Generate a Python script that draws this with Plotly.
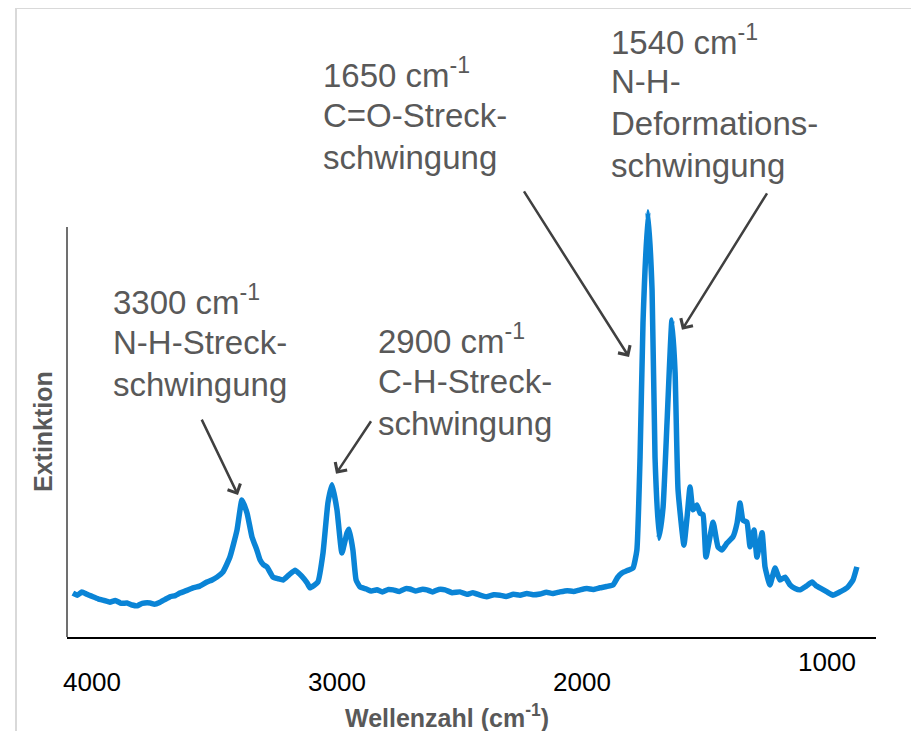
import plotly.graph_objects as go

# ---- data (wavenumber in cm^-1, extinction in arbitrary units) ----
wavenumber = [4078, 4060, 4041, 4020, 3996, 3975, 3950, 3927, 3905, 3880, 3857, 3836,
              3816, 3795, 3763, 3745, 3722, 3700, 3682, 3660, 3641, 3615, 3588, 3560,
              3531, 3510, 3490, 3465, 3437, 3408, 3388, 3367, 3347, 3327, 3314, 3300,
              3286, 3261, 3240, 3220, 3195, 3171, 3145, 3122, 3110, 3078, 3057, 3037,
              3020, 3000, 2980, 2959, 2951, 2935, 2922, 2906, 2880, 2860, 2837, 2815,
              2790, 2771, 2745, 2720, 2702, 2680, 2655, 2633, 2610, 2585, 2559, 2530,
              2498, 2470, 2445, 2416, 2390, 2360, 2335, 2310, 2280, 2253, 2225, 2200,
              2171, 2145, 2120, 2090, 2060, 2035, 2008, 1980, 1955, 1927, 1900, 1873,
              1855, 1837, 1815, 1792, 1776, 1763, 1751, 1731, 1714, 1702, 1686, 1669,
              1653, 1633, 1620, 1608, 1584, 1571, 1559, 1547, 1531, 1518, 1506, 1494,
              1465, 1445, 1429, 1408, 1384, 1367, 1355, 1343, 1327, 1314, 1298, 1286,
              1265, 1253, 1233, 1212, 1192, 1171, 1151, 1130, 1110, 1085, 1061, 1045,
              1029, 1000, 976, 950, 918, 894, 878]
extinction = [10.7, 10.2, 11.0, 10.4, 9.8, 9.3, 8.9, 8.5, 8.9, 8.2, 8.3, 7.8,
              7.6, 8.2, 8.3, 8.0, 8.5, 9.2, 9.8, 10.1, 10.7, 11.3, 12.0, 12.4,
              13.4, 13.9, 14.6, 15.9, 19.5, 26.1, 33.4, 30.2, 24.4, 21.2, 18.8, 17.6,
              17.1, 14.6, 14.2, 13.9, 15.2, 16.3, 14.9, 13.2, 12.0, 13.4, 20.5, 32.7,
              37.1, 31.0, 20.5, 25.4, 26.3, 21.2, 13.9, 12.2, 11.7, 11.2, 11.5, 11.0,
              11.6, 11.5, 11.1, 11.8, 11.7, 11.2, 11.6, 11.5, 11.0, 11.6, 11.5, 10.8,
              11.0, 10.4, 10.8, 10.2, 9.8, 10.3, 10.2, 9.9, 10.4, 10.2, 10.6, 10.3,
              10.5, 10.9, 10.6, 11.0, 11.3, 11.1, 11.5, 11.8, 11.6, 12.0, 12.3, 12.7,
              14.5, 15.6, 16.2, 16.8, 21.2, 43.9, 76.6, 103.7, 84.6, 43.9, 24.1, 31.7,
              52.2, 77.3, 64.4, 35.9, 22.4, 29.3, 36.6, 31.0, 32.2, 30.2, 29.8, 19.5,
              28.0, 22.0, 21.2, 22.9, 24.4, 27.8, 32.7, 28.5, 28.0, 22.0, 26.1, 19.5,
              25.4, 17.1, 12.7, 16.8, 13.9, 14.6, 12.7, 11.8, 11.5, 12.4, 13.4, 12.5,
              12.0, 11.0, 10.2, 10.9, 12.0, 13.9, 17.1]

tick_values = [4000, 3000, 2000, 1000]
tick_labels = ["4000", "3000", "2000", "1000"]

# peak annotations: arrow tip (wavenumber, extinction) and label lines
peak_tip_wn = [3404, 3004, 1808, 1592]
peak_tip_ext = [34.6, 39.8, 68.3, 74.9]
peak_labels = [
    ["3300 cm<sup>-1</sup>", "N-H-Streck-", "schwingung"],
    ["2900 cm<sup>-1</sup>", "C-H-Streck-", "schwingung"],
    ["1650 cm<sup>-1</sup>", "C=O-Streck-", "schwingung"],
    ["1540 cm<sup>-1</sup>", "N-H-", "Deformations-", "schwingung"],
]

# ---- layout geometry (window pixels; page body has an 8px margin) ----
OFF = 8
W, H = 919 - OFF, 731 - OFF
L, R, T, B = 67, 876, 197, 637
X_RANGE = [4102, 800]
Y_RANGE = [0, 107.3]


def px(xp, yp):
    return (xp - L) / (R - L), (B - yp) / (B - T)


TEXT_GREY = "#595959"
FONT = "Liberation Sans, Arial, sans-serif"

fig = go.Figure()
fig.add_trace(go.Scatter(
    x=wavenumber, y=extinction, mode="lines",
    line=dict(color="#0a84d6", width=5.5, shape="spline", smoothing=0.4),
    hoverinfo="skip", showlegend=False))

annotations = []

# arrows (tail offsets in pixels)
arrow_tails = [(-37, -77), (36, -54), (-106, -167), (86, -138)]
for wn, ex, (ax, ay) in zip(peak_tip_wn, peak_tip_ext, arrow_tails):
    annotations.append(dict(
        x=wn, y=ex, xref="x", yref="y", text="", showarrow=True,
        ax=ax, ay=ay, axref="pixel", ayref="pixel",
        arrowhead=4, arrowsize=1.1, arrowwidth=2.5, arrowcolor="#404040"))

# label text blocks: left x and first line y (pixels), line spacing
label_pos = [(111, 300), (376, 339), (321, 73), (609, 40)]
LINE_GAP = 42
for lines, (lx, ly) in zip(peak_labels, label_pos):
    for i, t in enumerate(lines):
        xp, yp = px(lx, ly + i * LINE_GAP)
        annotations.append(dict(
            x=xp, y=yp, xref="paper", yref="paper", text=t, showarrow=False,
            xanchor="left", yanchor="middle",
            font=dict(family=FONT, size=33, color=TEXT_GREY)))

# tick labels
for v, t in zip(tick_values, tick_labels):
    ypix = 662 if v == 1000 else 682
    annotations.append(dict(
        x=v, y=px(0, ypix)[1], xref="x", yref="paper", text=t, showarrow=False,
        xanchor="center", yanchor="middle",
        font=dict(family=FONT, size=26, color="#000000")))

# axis titles
xt, yt = px(447, 716)
annotations.append(dict(
    x=xt, y=yt, xref="paper", yref="paper",
    text="<b>Wellenzahl (cm<sup>-1</sup>)</b>", showarrow=False,
    xanchor="center", yanchor="middle",
    font=dict(family=FONT, size=25, color=TEXT_GREY)))
xt, yt = px(43, 432)
annotations.append(dict(
    x=xt, y=yt, xref="paper", yref="paper", text="<b>Extinktion</b>",
    showarrow=False, textangle=-90, xanchor="center", yanchor="middle",
    font=dict(family=FONT, size=25, color=TEXT_GREY)))

shapes = []
# chart frame border
fx0, fy0 = px(16, 8)
fx1, fy1 = px(915, 760)
shapes.append(dict(type="rect", xref="paper", yref="paper",
                   x0=fx0, y0=fy1, x1=fx1, y1=fy0,
                   line=dict(color="#d9d9d9", width=2), layer="below"))
# y axis line up to 100
shapes.append(dict(type="line", xref="paper", yref="y", x0=0, x1=0, y0=0, y1=100,
                   line=dict(color="#404040", width=1.5)))

fig.update_layout(
    width=W, height=H,
    margin=dict(l=L - OFF, r=919 - R, t=T - OFF, b=731 - B),
    paper_bgcolor="white", plot_bgcolor="white",
    xaxis=dict(range=X_RANGE, showgrid=False, zeroline=False, showline=True,
               linecolor="#000000", linewidth=1.5, showticklabels=False, ticks=""),
    yaxis=dict(range=Y_RANGE, showgrid=False, zeroline=False, showline=False,
               showticklabels=False, ticks=""),
    annotations=annotations, shapes=shapes,
    font=dict(family=FONT),
)

fig.write_html("out.html")
